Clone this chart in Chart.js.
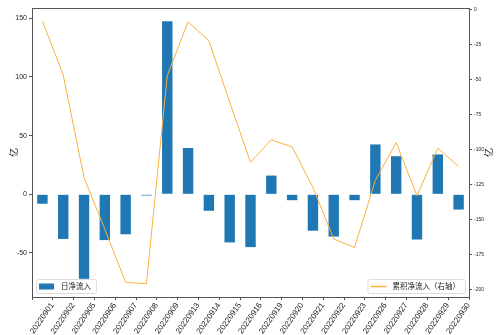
<!DOCTYPE html>
<html>
<head>
<meta charset="utf-8">
<script src="https://cdn.jsdelivr.net/npm/chart.js@4"></script>
<style>
  body { margin: 0; background: #fff; }
</style>
</head>
<body>
<canvas id="c" width="500" height="335"></canvas>
<script>
// trading days of Sept 2022
const dates = ['20220901', '20220902', '20220905', '20220906', '20220907', '20220908', '20220909',
    '20220913', '20220914', '20220915', '20220916', '20220919', '20220920', '20220921',
    '20220922', '20220923', '20220926', '20220927', '20220928', '20220929', '20220930'];
// daily net inflow (left axis)
const dailyFlow = [-8, -38, -72, -39, -34, -1, 147.5, 39.5, -14, -41, -45, 16, -5, -31,
    -36, -5, 42.5, 32.5, -38.5, 34, -13];
// cumulative net inflow (right axis)
const cumFlow = [-8, -46.5, -120, -157, -195, -196, -47, -8.5, -22, -66, -109, -93, -98, -127,
    -164, -170, -122, -95, -133, -99, -112];
// tick labels
const leftTicks = [-50, 0, 50, 100, 150];
const rightTicks = [0, -25, -50, -75, -100, -125, -150, -175, -200];
const unitLabel = '亿';

const FONT = "'Liberation Sans', 'Noto Sans CJK SC', sans-serif";
const CJK = "'Noto Sans CJK SC', sans-serif";
const BLUE = '#1f77b4';
const ORANGE = '#fbb13c';

//frame, right axis title and the two separate legends
const framePlugin = {
    id: 'frame',
    afterDraw(chart) {
        const ctx = chart.ctx;
        const a = chart.chartArea;
        ctx.save();
        ctx.strokeStyle = '#555';
        ctx.lineWidth = 1;
        ctx.strokeRect(Math.round(a.left) + 0.5, Math.round(a.top) + 0.5,
            Math.round(a.right - a.left), Math.round(a.bottom - a.top));

        // right axis title, reads bottom to top like the left one
        ctx.save();
        ctx.translate(489, (a.top + a.bottom) / 2);
        ctx.rotate(-Math.PI / 2);
        ctx.font = '9px ' + CJK;
        ctx.fillStyle = '#222';
        ctx.textAlign = 'center';
        ctx.textBaseline = 'middle';
        ctx.fillText(unitLabel, 0, 0);
        ctx.restore();

        ctx.font = '7.5px ' + CJK;
        ctx.textBaseline = 'middle';
        const ds = chart.data.datasets;

        // left legend (bars)
        let w1 = 24 + ctx.measureText(ds[0].label).width + 6;
        let x1 = a.left + 4, y1 = a.bottom - 18;
        ctx.fillStyle = 'rgba(255,255,255,0.8)';
        ctx.strokeStyle = '#ddd';
        ctx.beginPath();
        ctx.roundRect(x1 + 0.5, y1 + 0.5, w1, 14, 2);
        ctx.fill(); ctx.stroke();
        ctx.fillStyle = BLUE;
        ctx.fillRect(x1 + 3, y1 + 4.5, 15, 6);
        ctx.fillStyle = '#222';
        ctx.fillText(ds[0].label, x1 + 25, y1 + 7.5);

        // right legend (line)
        let w2 = 24 + ctx.measureText(ds[1].label).width + 6;
        let x2 = a.right - 4 - w2, y2 = a.bottom - 18;
        ctx.fillStyle = 'rgba(255,255,255,0.8)';
        ctx.strokeStyle = '#ddd';
        ctx.beginPath();
        ctx.roundRect(x2 + 0.5, y2 + 0.5, w2, 14, 2);
        ctx.fill(); ctx.stroke();
        ctx.strokeStyle = ORANGE;
        ctx.lineWidth = 1.5;
        ctx.beginPath();
        ctx.moveTo(x2 + 3, y2 + 7.5);
        ctx.lineTo(x2 + 19, y2 + 7.5);
        ctx.stroke();
        ctx.fillStyle = '#222';
        ctx.fillText(ds[1].label, x2 + 25, y2 + 7.5);
        ctx.restore();
    }
};

const ctx = document.getElementById('c').getContext('2d');
const myChart = new Chart(ctx, {
    type: 'bar',
    data: {
        labels: dates,
        datasets: [{
            type: 'bar',
            label: '日净流入',
            data: dailyFlow,
            backgroundColor: BLUE,
            barPercentage: 0.5,
            categoryPercentage: 1,
            yAxisID: 'y',
            order: 2
        },
        {
            type: 'line',
            label: '累积净流入（右轴）',
            data: cumFlow,
            borderColor: ORANGE,
            borderWidth: 1,
            pointRadius: 0,
            tension: 0,
            yAxisID: 'y1',
            order: 1
        }]
    },
    options: {
        responsive: false,
        animation: false,
        layout: { padding: { top: 8, left: 0, right: 0, bottom: 0 } },
        plugins: {
            legend: { display: false },
            tooltip: { enabled: false }
        },
        scales: {
            x: {
                offset: true,
                grid: { display: true, drawOnChartArea: false, drawTicks: true, tickLength: 3, color: '#555' },
                border: { display: false },
                ticks: {
                    autoSkip: false,
                    minRotation: 55,
                    maxRotation: 55,
                    padding: 1,
                    labelOffset: 10,
                    color: '#222',
                    font: { family: FONT, size: 8 }
                },
                afterFit(s) { s.height = 38; s.paddingLeft = 0; s.paddingRight = 0; }
            },
            y: {
                position: 'left',
                min: -87.5,
                max: 158.8,
                grid: { display: true, drawOnChartArea: false, drawTicks: true, tickLength: 3, color: '#555' },
                border: { display: false },
                ticks: { color: '#222', padding: 2, font: { family: FONT, size: 7 } },
                afterBuildTicks(s) { s.ticks = leftTicks.map(v => ({ value: v })); },
                title: { display: true, text: unitLabel, color: '#222', padding: { top: 8, bottom: 0 }, font: { family: CJK, size: 9 } },
                afterFit(s) { s.width = 32; }
            },
            y1: {
                position: 'right',
                min: -205.5,
                max: 1.43,
                grid: { display: true, drawOnChartArea: false, drawTicks: true, tickLength: 3, color: '#555' },
                border: { display: false },
                ticks: { color: '#222', padding: 2, font: { family: FONT, size: 5 } },
                afterBuildTicks(s) { s.ticks = rightTicks.map(v => ({ value: v })); },
                afterFit(s) { s.width = 31; }
            }
        }
    },
    plugins: [framePlugin]
});
</script>
</body>
</html>
